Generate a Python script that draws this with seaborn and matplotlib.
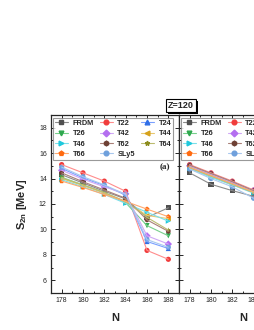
import pandas as pd
import seaborn as sns
import matplotlib.pyplot as plt
import matplotlib.patheffects as pe
from matplotlib.lines import Line2D
from matplotlib.ticker import MultipleLocator

# Data
N_LEFT = [178, 180, 182, 184, 186, 188]
LEFT = {
    "FRDM": [14.30, 13.65, 13.00, 12.40, 10.95, 11.70],
    "T22": [15.10, 14.45, 13.80, 13.00, 8.35, 7.65],
    "T24": [14.80, 14.05, 13.45, 12.70, 9.05, 8.50],
    "T26": [14.10, 13.50, 12.90, 12.10, 10.30, 9.50],
    "T42": [14.65, 13.95, 13.35, 12.80, 9.50, 8.85],
    "T44": [14.00, 13.45, 12.85, 12.20, 11.10, 10.85],
    "T46": [13.90, 13.35, 12.75, 12.05, 11.35, 10.65],
    "T62": [14.45, 13.75, 13.10, 12.45, 10.75, 9.85],
    "T64": [14.05, 13.50, 12.90, 12.20, 10.95, 9.95],
    "T66": [13.80, 13.30, 12.75, 12.20, 11.60, 11.00],
    "SLy5": [14.90, 14.15, 13.50, 12.75, 9.20, 8.60],
}
N_RIGHT = [178, 180, 182, 184]
RIGHT = {
    "FRDM": [14.45, 13.55, 13.05, 12.60],
    "T22": [15.10, 14.45, 13.80, 13.10],
    "T24": [14.95, 14.30, 13.65, 13.00],
    "T26": [14.85, 14.20, 13.55, 12.95],
    "T42": [15.00, 14.35, 13.70, 13.05],
    "T44": [14.80, 14.15, 13.50, 12.90],
    "T46": [14.80, 14.10, 13.50, 12.85],
    "T62": [15.05, 14.40, 13.75, 13.05],
    "T64": [14.85, 14.20, 13.55, 12.90],
    "T66": [14.90, 14.25, 13.60, 12.95],
    "SLy5": [14.75, 14.00, 13.35, 12.45],
}

MODELS = ["FRDM", "T22", "T24", "T26", "T42", "T44", "T46", "T62", "T64", "T66", "SLy5"]
MARKERS = dict(zip(MODELS, ["s", "o", "^", "v", "D", "<", ">", "h", "*", "p", "o"]))
MARKER_COLORS = dict(zip(MODELS, [
    "#505050", "#f03c3c", "#2f6ee6", "#2ea84e", "#b46ef0", "#d6a21c",
    "#1ec8dc", "#6e4034", "#8c8c1e", "#ff6a10", "#6fa0dc",
]))
LINE_COLORS = dict(zip(MODELS, [
    "#8c8c8c", "#ff8c8c", "#7aa0ff", "#78d08c", "#d0a8f6", "#e8c870",
    "#7ae0ea", "#a88078", "#bcbc70", "#ffaa70", "#a8c8ee",
]))
LEG_ORDER = ["FRDM", "T26", "T46", "T66", "T22", "T42", "T62", "SLy5", "T24", "T44", "T64"]


def long_form(n, table):
    rows = []
    for m in MODELS:
        for x, y in zip(n, table[m]):
            rows.append({"N": x, "S2n": y, "model": m})
    return pd.DataFrame(rows)


sns.set_style("ticks")
plt.rcParams["font.family"] = ["Liberation Sans", "DejaVu Sans"]
plt.rcParams["mathtext.fontset"] = "custom"
plt.rcParams["mathtext.bf"] = "Liberation Sans:bold"
plt.rcParams["mathtext.rm"] = "Liberation Sans"

fig = plt.figure(figsize=(2.55, 3.3), dpi=100)
ax1 = fig.add_axes([51 / 255, 37 / 330, 128 / 255, 178 / 330])
ax2 = fig.add_axes([179 / 255, 37 / 330, 128 / 255, 178 / 330], sharey=ax1)

for ax, n, table in [(ax1, N_LEFT, LEFT), (ax2, N_RIGHT, RIGHT)]:
    df = long_form(n, table)
    sns.lineplot(data=df, x="N", y="S2n", hue="model", hue_order=MODELS,
                 palette=LINE_COLORS, lw=0.8, legend=False, ax=ax)
    sns.scatterplot(data=df, x="N", y="S2n", hue="model", style="model",
                    hue_order=MODELS, style_order=MODELS, markers=MARKERS,
                    palette=MARKER_COLORS, s=14, linewidth=0, legend=False, ax=ax)
    ax.set_xlim(177, 189)
    ax.set_ylim(5, 19)
    ax.xaxis.set_major_locator(MultipleLocator(2))
    ax.xaxis.set_minor_locator(MultipleLocator(1))
    ax.yaxis.set_major_locator(MultipleLocator(2))
    ax.yaxis.set_minor_locator(MultipleLocator(1))
    ax.tick_params(which="both", direction="in", top=True, right=True,
                   width=0.7, labelsize=5, pad=3)
    ax.tick_params(which="major", length=3)
    ax.tick_params(which="minor", length=1.6)
    for s in ax.spines.values():
        s.set_linewidth(0.9)
    ax.set_xlabel("N", fontsize=8, fontweight="bold")
    ax.xaxis.set_label_coords(0.5, -0.112)
    ax.set_ylabel("")

    handles = [Line2D([], [], color=LINE_COLORS[m], lw=0.8, marker=MARKERS[m],
                      markersize=3.4, markerfacecolor=MARKER_COLORS[m],
                      markeredgecolor=MARKER_COLORS[m]) for m in LEG_ORDER]
    leg = ax.legend(handles, LEG_ORDER, ncol=3, loc="upper left",
                    bbox_to_anchor=(0.013, 0.985), borderaxespad=0,
                    prop={"size": 5.3, "weight": "bold"}, frameon=True,
                    fancybox=False, edgecolor="#808080", borderpad=0.3,
                    labelspacing=0.42, handlelength=1.8, handletextpad=0.6,
                    columnspacing=0.8)
    leg.get_frame().set_linewidth(0.8)

ax1.set_ylabel(r"$\mathbf{S_{2n}}$ [MeV]", fontsize=8, fontweight="bold")
ax1.yaxis.set_label_coords(-0.17, 0.5)
ax2.tick_params(labelleft=False)

ax1.text(0.89, 0.708, "(a)", transform=ax1.transAxes, ha="center", va="center",
         fontsize=6.5, fontweight="bold", family="Liberation Serif")

z = fig.text(181 / 255, 1 - 105.5 / 330, "Z=120", ha="center", va="center",
             fontsize=6.5, fontweight="bold",
             bbox=dict(boxstyle="square,pad=0.2", fc="white", ec="black", lw=0.8))
z.get_bbox_patch().set_path_effects([
    pe.SimplePatchShadow(offset=(1.5, -1.5), shadow_rgbFace="black", alpha=1),
    pe.Normal(),
])

fig.savefig("out.png", dpi=100)
